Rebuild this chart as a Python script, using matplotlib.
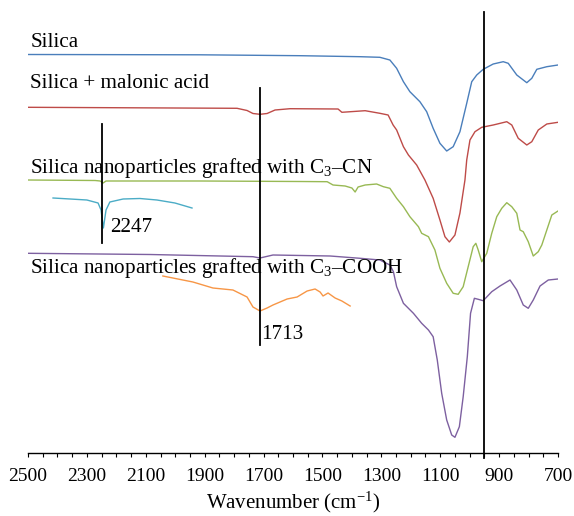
import matplotlib
matplotlib.use("Agg")
import matplotlib.pyplot as plt
from matplotlib.ticker import MultipleLocator

plt.rcParams['font.family'] = ['Liberation Serif', 'DejaVu Serif']
plt.rcParams['mathtext.fontset'] = 'custom'
plt.rcParams['mathtext.rm'] = 'Liberation Serif'
plt.rcParams['mathtext.it'] = 'Liberation Serif:italic'

# ---- data (wavenumber, offset signal in arbitrary units) ----
silica_wn = [2500, 1916, 1576, 1372, 1305, 1271, 1248, 1225, 1203, 1169, 1146, 1124, 1101,
             1078, 1056, 1033, 1010, 993, 976, 954, 920, 886, 869, 840, 806, 789, 772, 738, 700]
silica_v = [398.5, 398.2, 397.3, 396.3, 395.7, 393, 384.7, 371.3, 361.3, 351.3, 341.3, 324.7, 309.7,
            302, 306.3, 321.3, 349.7, 371.3, 378, 383.7, 389, 391.3, 389.7, 378, 370.3, 374.7, 383.7, 386.3, 388]

malonic_wn = [2500, 1790, 1756, 1736, 1712, 1688, 1661, 1610, 1447, 1434, 1355, 1305, 1277, 1260,
              1248, 1225, 1208, 1180, 1152, 1124, 1101, 1084, 1069, 1050, 1033, 1016, 1010, 999,
              982, 959, 920, 874, 857, 835, 806, 789, 767, 738, 700]
malonic_v = [345.7, 344.7, 342.5, 339.5, 338.7, 339.5, 343, 344.3, 344, 340.7, 342.3, 339.7, 338, 328,
             323, 306.3, 298, 288, 273, 254.7, 233, 216.3, 211, 218, 240, 273, 293, 313,
             321.3, 325.7, 328, 331.3, 328, 314.7, 308, 311.3, 323, 329, 330.7]

cn_wn = [2500, 2272, 2255, 2245, 2235, 1916, 1576, 1484, 1464, 1423, 1400, 1389, 1379, 1355, 1316,
         1293, 1271, 1248, 1225, 1203, 1174, 1163, 1140, 1118, 1101, 1078, 1056, 1039, 1022, 1005,
         988, 979, 971, 959, 942, 925, 908, 891, 874, 857, 840, 829, 818, 801, 784, 767, 755,
         738, 721, 700]
cn_v = [273, 272.5, 272, 270, 272, 272, 271.5, 271.3, 268, 267, 265, 261, 266, 268, 269,
        266.3, 264.7, 254.7, 246.3, 236.3, 226.3, 219.7, 216.3, 203, 184.7, 169.7, 159.7, 158.7, 166.3, 186.3,
        206.3, 209.7, 203, 191.3, 199.7, 219.7, 236.3, 244.7, 250.3, 246.3, 239.7, 223, 221.3, 211.3, 197, 201.3, 208,
        223, 238, 242]

cooh_wn = [2500, 2086, 1736, 1712, 1668, 1474, 1372, 1305, 1271, 1259, 1248, 1225, 1191, 1163, 1140,
           1124, 1110, 1095, 1078, 1061, 1050, 1035, 1022, 1008, 997, 984, 971, 954, 925, 897,
           863, 840, 818, 801, 784, 761, 733, 700]
cooh_v = [199.7, 198.5, 196.3, 195, 198, 197, 194.7, 193, 188, 181.3, 166.3, 149.7, 139.7, 129.7, 123,
          116.3, 93, 59.7, 33, 18, 15.7, 26.3, 56.3, 96.3, 139.7, 154.7, 153.7, 152.3, 161.3, 167,
          173, 163, 148, 144.7, 153, 167, 173, 174]

cn_inset_wn = [2415, 2357, 2300, 2262, 2252, 2244, 2235, 2222, 2177, 2120, 2062, 2001, 1943]
cn_inset_v = [255, 254, 253, 250, 243, 225, 243, 251, 254, 254.5, 253, 250, 245]

cooh_inset_wn = [2042, 1991, 1940, 1872, 1804, 1756, 1736, 1712, 1688, 1668, 1620, 1586, 1552,
                 1525, 1508, 1498, 1481, 1457, 1434, 1406]
cooh_inset_v = [177, 174, 171, 165, 163, 156, 146, 142, 145, 148, 154, 156, 162,
                164, 161, 157, 160, 155, 152, 147]

series_labels = ["Silica", "Silica + malonic acid",
                 "Silica nanoparticles grafted with C$_3$–CN",
                 "Silica nanoparticles grafted with C$_3$–COOH"]
marker_wn = [2247, 1713, 950]
marker_labels = ["2247", "1713"]
xticks = [2500, 2300, 2100, 1900, 1700, 1500, 1300, 1100, 900, 700]

# ---- figure ----
fig = plt.figure(figsize=(5.74, 5.16), dpi=100)
ax = fig.add_axes([28 / 574, 63 / 516, 530 / 574, 443 / 516])
ax.set_xlim(2500, 700)
ax.set_ylim(0, 443)

lw = 1.0
ax.plot(silica_wn, silica_v, color='#4a7ebb', lw=lw)
ax.plot(malonic_wn, malonic_v, color='#be4b48', lw=lw)
ax.plot(cn_wn, cn_v, color='#98b954', lw=lw)
ax.plot(cooh_wn, cooh_v, color='#7d60a0', lw=lw)
ax.plot(cn_inset_wn, cn_inset_v, color='#4bacc6', lw=lw)
ax.plot(cooh_inset_wn, cooh_inset_v, color='#f79646', lw=lw)

# marker lines
ax.plot([marker_wn[0]] * 2, [210, 329], color='black', lw=1.3)
ax.plot([marker_wn[1]] * 2, [108, 365], color='black', lw=1.3)
ax.plot([marker_wn[2]] * 2, [-5, 441], color='black', lw=1.3, clip_on=False)

fs = 15.2
ax.text(2492, 406.3, series_labels[0], fontsize=fs, va='baseline')
ax.text(2492, 364.7, series_labels[1], fontsize=fs, va='baseline')
ax.text(2492, 279.7, series_labels[2], fontsize=fs, va='baseline')
ax.text(2492, 179.7, series_labels[3], fontsize=fs, va='baseline')
ax.text(2222, 221.3, marker_labels[0], fontsize=fs, va='baseline')
ax.text(1709, 113.7, marker_labels[1], fontsize=fs, va='baseline')

for s in ['left', 'right', 'top']:
    ax.spines[s].set_visible(False)
ax.spines['bottom'].set_linewidth(1.0)
ax.set_yticks([])
ax.set_xticks(xticks)
ax.xaxis.set_minor_locator(MultipleLocator(50))
ax.tick_params(axis='x', which='both', direction='out', length=3, width=0.8)
ax.tick_params(axis='x', which='major', labelsize=14, pad=8)
ax.set_xlabel("Wavenumber (cm$^{-1}$)", fontsize=15, labelpad=3)

fig.savefig("out.png", dpi=100)
